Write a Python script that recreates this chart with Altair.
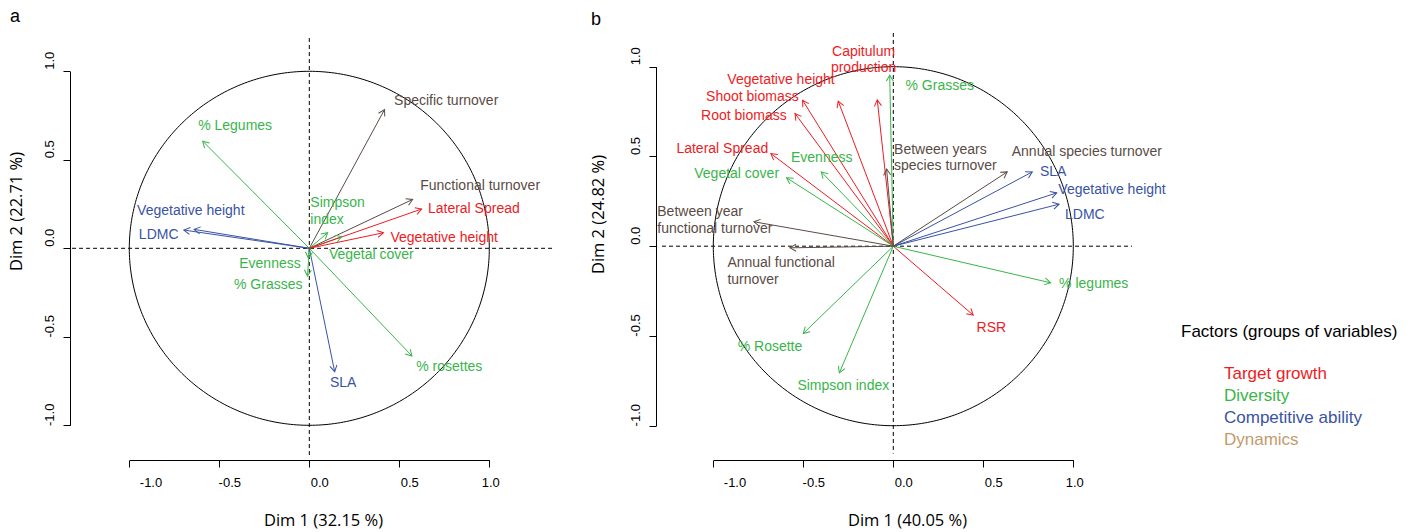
import math
import altair as alt
import pandas as pd

# ---------------- Panel a: correlation circle, first analysis ----------------
a_names = ["Specific turnover", "Functional turnover", "% Legumes", "Simpson\nindex",
           "Vegetal cover", "Evenness", "% Grasses", "% rosettes",
           "Vegetative height", "LDMC", "SLA", "Lateral Spread", "Vegetative height"]
a_groups = ["Dynamics", "Dynamics", "Diversity", "Diversity", "Diversity", "Diversity",
            "Diversity", "Diversity", "Competitive ability", "Competitive ability",
            "Competitive ability", "Target growth", "Target growth"]
a_dim1 = [0.418, 0.574, -0.592, 0.102, 0.180, -0.005, -0.010, 0.570,
          -0.640, -0.697, 0.141, 0.624, 0.412]
a_dim2 = [0.784, 0.276, 0.605, 0.088, 0.066, -0.056, -0.157, -0.608,
          0.107, 0.103, -0.697, 0.222, 0.088]

# ---------------- Panel b: correlation circle, second analysis ----------------
b_names = ["Capitulum\nproduction", "Vegetative height", "Shoot biomass", "Root biomass",
           "Lateral Spread", "RSR", "% Grasses", "Evenness", "Vegetal cover", "% Rosette",
           "Simpson index", "% legumes", "SLA", "Vegetative height", "LDMC",
           "Between years\nspecies turnover", "Between year\nfunctional turnover",
           "Annual functional\nturnover", "Annual species turnover"]
b_groups = ["Target growth"] * 6 + ["Diversity"] * 6 + ["Competitive ability"] * 3 + ["Dynamics"] * 4
b_dim1 = [-0.089, -0.306, -0.504, -0.546, -0.680, 0.444, -0.020, -0.400, -0.593, -0.500,
          -0.300, 0.874, 0.772, 0.908, 0.921, -0.037, -0.774, -0.574, 0.633]
b_dim2 = [0.815, 0.808, 0.813, 0.739, 0.516, -0.384, 0.953, 0.414, 0.381, -0.486,
          -0.706, -0.204, 0.414, 0.297, 0.234, 0.430, 0.136, -0.009, 0.414]

# Label placement: offset of each label's centre line from its arrow tip (pixels)
# and text alignment
a_lab_dx = [9.5, 7.6, 32.4, -17.3, -12.8, -7.7, -5.0, 4.3, -57.0, -45.0, -4.7, 6.3, 7.0]
a_lab_dy = [-8.3, -13.3, -15.0, -21.0, 18.4, 5.8, 8.9, 10.8, -18.4, 5.0, 11.0, 0.4, 5.7]
a_lab_al = ["left", "left", "center", "left", "left", "right", "right", "left",
            "left", "left", "left", "left", "left"]
b_lab_dx = [-13.7, -57.2, -50.2, -51.1, -48.6, 3.4, 15.8, 0.4, -49.9, -33.3,
            4.0, 8.5, 7.7, 1.6, 5.9, 7.4, -96.7, -62.6, 4.5]
b_lab_dy = [-40.0, -21.0, -3.4, 2.7, -4.3, 12.4, 11.1, -14.0, -3.6, 14.0,
            12.9, 0.7, 0.0, -2.7, 11.0, -11.0, -1.1, 23.8, -19.4]
b_lab_al = ["center", "center", "center", "center", "center", "left", "left", "center",
            "center", "center", "center", "left", "left", "left", "left", "left",
            "left", "left", "left"]

GROUPS = ["Target growth", "Diversity", "Competitive ability", "Dynamics"]
ARROW_COLORS = ["#ed1c24", "#39b54a", "#3953a4", "#5a4b45"]
LEGEND_COLORS = ["#ed1c24", "#39b54a", "#3953a4", "#c49a6c"]

TICKS = [-1.0, -0.5, 0.0, 0.5, 1.0]
LABEL_EXPR = "datum.value < 0 ? '-' + format(-datum.value, '.1f') : format(datum.value, '.1f')"
CHEVRON = "M -1 -0.577 L 0 0 L -1 0.577"
TXT_FONT = "Liberation Sans"
TITLE_FONT = "Open Sans"
LABEL_SIZE = 14
LINE_H = 16.5

circle = pd.DataFrame({
    "k": list(range(361)),
    "cx": [math.cos(math.radians(t)) for t in range(361)],
    "cy": [math.sin(math.radians(t)) for t in range(361)],
})


def x_axis(title, title_x):
    return alt.Axis(orient="bottom", values=TICKS, labelExpr=LABEL_EXPR, grid=False,
                    domainColor="black", tickColor="black", tickSize=7, labelPadding=9,
                    labelOffset=10, labelFont=TXT_FONT, labelFontSize=13, labelColor="black",
                    title=title, titleX=title_x, titleY=60, titleAlign="center",
                    titleBaseline="middle", titleFont=TITLE_FONT, titleFontSize=16.5,
                    titleFontWeight="normal", titleColor="black")


def y_axis(title, left, title_x, title_y):
    return alt.Axis(orient="left", offset=-left, values=TICKS, labelExpr=LABEL_EXPR,
                    grid=False, domainColor="black", tickColor="black", tickSize=7,
                    labelPadding=7, labelAngle=270, labelAlign="center",
                    labelBaseline="bottom", labelOffset=-11, labelFont=TXT_FONT,
                    labelFontSize=13, labelColor="black", title=title, titleAngle=270,
                    titleX=title_x - left, titleY=title_y, titleAlign="center",
                    titleBaseline="middle", titleFont=TITLE_FONT, titleFontSize=16.5,
                    titleFontWeight="normal", titleColor="black")


def panel(names, groups, d1, d2, ldx, ldy, lal, xr, yr, xax, yax, hext, vext):
    xs = alt.Scale(domain=[-1, 1], range=xr, zero=False, nice=False)
    ys = alt.Scale(domain=[-1, 1], range=yr, zero=False, nice=False)
    sx = (xr[1] - xr[0]) / 2.0
    sy = (yr[0] - yr[1]) / 2.0
    df = pd.DataFrame({"name": names, "group": groups, "d1": d1, "d2": d2,
                       "dx": ldx, "dy": ldy, "al": lal})
    df["o"] = 0.0
    df["ang"] = [math.degrees(math.atan2(-b * sy, a * sx)) % 360 for a, b in zip(d1, d2)]
    # multi-line labels are anchored on their first line: lift them by half the block
    lift = [(n.count("\n")) * LINE_H / 2.0 for n in names]
    df["lx"] = df["d1"] + df["dx"] / sx
    df["ly"] = df["d2"] - (df["dy"] - pd.Series(lift)) / sy

    X = lambda f: alt.X(f, type="quantitative", scale=xs, axis=xax)
    Y = lambda f: alt.Y(f, type="quantitative", scale=ys, axis=yax)
    col = alt.Color("group:N", scale=alt.Scale(domain=GROUPS, range=ARROW_COLORS), legend=None)

    ring = alt.Chart(circle).mark_line(color="black", strokeWidth=1).encode(
        x=X("cx"), y=Y("cy"), order="k:Q")
    hdash = alt.Chart(pd.DataFrame({"x1": [hext[0]], "x2": [hext[1]], "y": [0.0]})).mark_rule(
        color="black", strokeDash=[4, 3], strokeWidth=1).encode(x=X("x1"), x2="x2:Q", y=Y("y"))
    vdash = alt.Chart(pd.DataFrame({"y1": [vext[0]], "y2": [vext[1]], "x": [0.0]})).mark_rule(
        color="black", strokeDash=[4, 3], strokeWidth=1).encode(x=X("x"), y=Y("y1"), y2="y2:Q")
    shafts = alt.Chart(df).mark_rule(strokeWidth=1).encode(
        x=X("o"), y=Y("o"), x2="d1:Q", y2="d2:Q", color=col)
    heads = alt.Chart(df).mark_point(shape=CHEVRON, filled=False, size=150, strokeWidth=1,
                                     opacity=1).encode(
        x=X("d1"), y=Y("d2"), angle=alt.Angle("ang:Q", scale=None), color=col)
    layers = [ring, hdash, vdash, shafts, heads]
    for a in ["left", "center", "right"]:
        if a in lal:
            layers.append(alt.Chart(df).transform_filter(alt.datum.al == a).mark_text(
                align=a, baseline="middle", font=TXT_FONT, fontSize=LABEL_SIZE, lineBreak="\n",
                lineHeight=LINE_H).encode(x=X("lx"), y=Y("ly"), text="name:N", color=col))
    return alt.layer(*layers)


panel_a = panel(a_names, a_groups, a_dim1, a_dim2, a_lab_dx, a_lab_dy, a_lab_al,
                [129.3, 489.3], [425.3, 71.3],
                x_axis("Dim 1 (32.15 %)", 323), y_axis("Dim 2 (22.71 %)", 70, 16, 211),
                [-1.318, 1.354], [1.188, -1.185])
panel_b = panel(b_names, b_groups, b_dim1, b_dim2, b_lab_dx, b_lab_dy, b_lab_al,
                [713.3, 1073.3], [425.7, 66.7],
                x_axis("Dim 1 (40.05 %)", 907), y_axis("Dim 2 (24.82 %)", 656, 598, 214),
                [-1.285, 1.326], [1.188, -1.155])

letters = [
    alt.Chart(pd.DataFrame({"t": [t]})).mark_text(
        font=TXT_FONT, fontSize=18, align="center", baseline="alphabetic", color="black"
    ).encode(text="t:N", x=alt.value(px), y=alt.value(py))
    for t, px, py in [("a", 15, 22), ("b", 596, 25)]
]

legend_title = alt.Chart(pd.DataFrame({"t": ["Factors (groups of variables)"]})).mark_text(
    font=TXT_FONT, fontSize=17, align="left", baseline="middle", color="black"
).encode(text="t:N", x=alt.value(1181), y=alt.value(332))
legend_items = [
    alt.Chart(pd.DataFrame({"t": [g]})).mark_text(
        font=TXT_FONT, fontSize=17, align="left", baseline="middle", color=c
    ).encode(text="t:N", x=alt.value(1224), y=alt.value(374 + 22 * i))
    for i, (g, c) in enumerate(zip(GROUPS, LEGEND_COLORS))
]

chart = alt.layer(panel_a, panel_b, *letters, legend_title, *legend_items).resolve_scale(
    x="independent", y="independent"
).properties(
    width=1414, height=460,
    padding={"left": 0, "top": 0, "right": 0, "bottom": 72},
    autosize=alt.AutoSizeParams(type="none"),
).configure_view(stroke=None)

chart.save("out.html", embed_options={"renderer": "svg", "actions": False})
